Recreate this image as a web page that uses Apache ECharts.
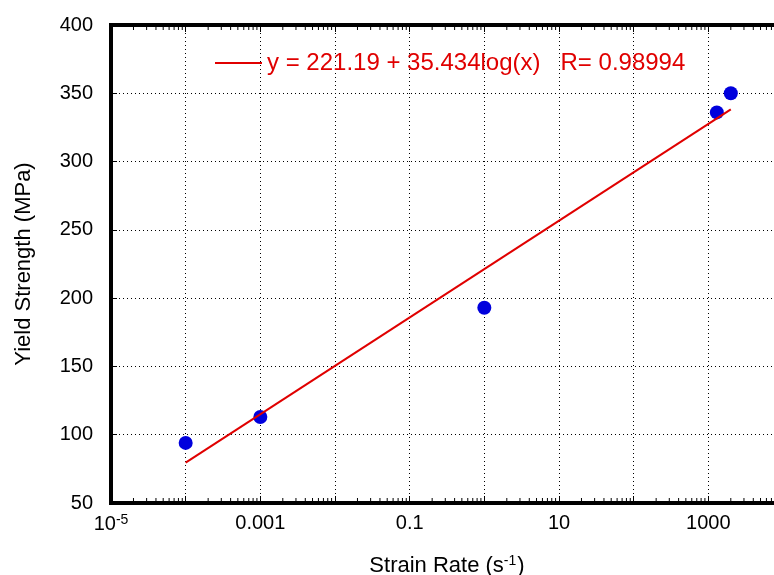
<!DOCTYPE html>
<html>
<head>
<meta charset="utf-8">
<script src="https://cdn.jsdelivr.net/npm/echarts@6/dist/echarts.min.js"></script>
<style>
  html, body { margin: 0; padding: 0; background: #fff; }
  #chart { width: 774px; height: 575px; }
</style>
</head>
<body>
<div id="chart"></div>
<script>
// 测试数据
var strainRate = [1e-4, 1e-3, 1, 1300, 2000];
var yieldStrength = [94, 113, 193, 336, 350];
// 拟合直线的两个端点
var fitX = [1e-4, 2000];
var fitY = [79.5, 338.2];
var fitName = 'y = 221.19 + 35.434log(x)   R= 0.98994';

// x轴标签 (只显示隔一个十进位)
var xLabelExps = [-5, -3, -1, 1, 3];
var xLabelTexts = ['{b|10}{s|-5}', '0.001', '0.1', '10', '1000'];

// 次刻度 2..9 x 10^k
var minorTicks = [];
for (var k = -5; k < 4; k++) {
    for (var m = 2; m <= 9; m++) {
        minorTicks.push([m * Math.pow(10, k), 50]);
    }
}

var font = '"Liberation Sans", Arial, sans-serif';
var red = '#e00000';
var blue = '#0000dd';

var chart = echarts.init(document.getElementById('chart'));
var option = {
    animation: false,
    backgroundColor: '#fff',
    textStyle: { fontFamily: font },
    grid: {
        left: 111, top: 25, right: -9, bottom: 72,
        outerBoundsMode: 'none',
        containLabel: false,
        show: true, borderColor: '#000', borderWidth: 4
    },
    legend: {
        left: 215, top: 51, padding: 0,
        itemWidth: 47, itemHeight: 2,
        data: [{ name: fitName, icon: 'rect' }],
        textStyle: { color: red, fontSize: 24, fontFamily: font }
    },
    xAxis: [{
        type: 'log', logBase: 10, min: 1e-5, max: 1e4,
        name: 'Strain Rate (s{s|-1})',
        nameLocation: 'middle', nameGap: 51,
        nameTextStyle: {
            color: '#000', fontSize: 22, fontFamily: font,
            rich: { s: { fontSize: 14, verticalAlign: 'top', padding: [0, 1, 10, 0] } }
        },
        axisLine: { show: false },
        axisTick: { inside: true, length: 7, lineStyle: { color: '#000' } },
        axisLabel: {
            color: '#000', fontSize: 20, margin: 10,
            formatter: function (v) {
                var e = Math.round(Math.log10(v));
                var i = xLabelExps.indexOf(e);
                return i < 0 ? '' : xLabelTexts[i];
            },
            rich: {
                b: { fontSize: 20, color: '#000', fontFamily: font },
                s: { fontSize: 14, color: '#000', fontFamily: font, verticalAlign: 'top', padding: [0, 0, 8, 0] }
            }
        },
        splitLine: { show: true, lineStyle: { color: '#000', type: [1, 3], width: 1 } }
    }, {
        type: 'log', logBase: 10, min: 1e-5, max: 1e4, position: 'top',
        axisLine: { show: false },
        axisTick: { inside: true, length: 7, lineStyle: { color: '#000' } },
        axisLabel: { show: false },
        splitLine: { show: false }
    }],
    yAxis: {
        type: 'value', min: 50, max: 400, interval: 50,
        name: 'Yield Strength (MPa)',
        nameLocation: 'middle', nameGap: 76,
        nameTextStyle: { color: '#000', fontSize: 22, fontFamily: font },
        axisLine: { show: false },
        axisTick: { inside: true, length: 6, lineStyle: { color: '#000' } },
        axisLabel: { color: '#000', fontSize: 20, margin: 18 },
        splitLine: { show: true, lineStyle: { color: '#000', type: [1, 3], width: 1 } }
    },
    series: [
        {
            // 次刻度线（上下两边）
            type: 'custom',
            silent: true,
            clip: false,
            data: minorTicks,
            renderItem: function (params, api) {
                var v = api.value(0);
                var b = api.coord([v, 50]);
                var t = api.coord([v, 400]);
                return {
                    type: 'group',
                    children: [
                        { type: 'line', shape: { x1: b[0], y1: b[1], x2: b[0], y2: b[1] - 5 }, style: { stroke: '#000', lineWidth: 1 } },
                        { type: 'line', shape: { x1: t[0], y1: t[1], x2: t[0], y2: t[1] + 5 }, style: { stroke: '#000', lineWidth: 1 } }
                    ]
                };
            }
        },
        {
            name: fitName,
            type: 'line',
            symbol: 'none',
            data: fitX.map(function (x, i) { return [x, fitY[i]]; }),
            lineStyle: { color: red, width: 2 },
            itemStyle: { color: red }
        },
        {
            name: 'data',
            type: 'scatter',
            symbolSize: 14,
            data: strainRate.map(function (x, i) { return [x, yieldStrength[i]]; }),
            itemStyle: { color: blue, opacity: 1 }
        }
    ]
};
chart.setOption(option);
</script>
</body>
</html>
